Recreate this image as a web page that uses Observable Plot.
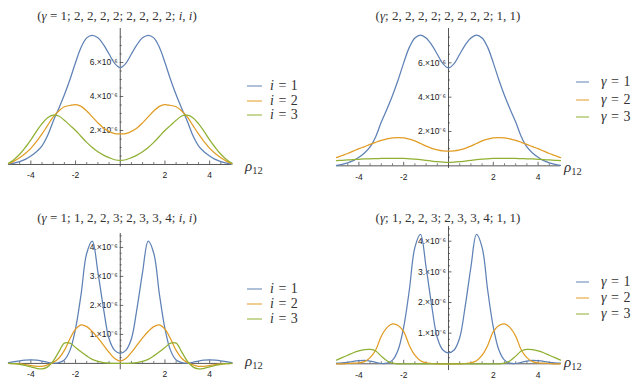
<!DOCTYPE html>
<html><head><meta charset="utf-8">
<script src="https://cdn.jsdelivr.net/npm/d3@7"></script>
<script src="https://cdn.jsdelivr.net/npm/@observablehq/plot@0.6"></script>
<style>
html,body{margin:0;padding:0;background:#fff;}
#root{position:relative;width:635px;height:380px;overflow:hidden;background:#fff;}
#root svg{position:absolute;overflow:visible;}
.t{position:absolute;font-family:"Liberation Serif","Times New Roman",Times,"DejaVu Serif",serif;color:#333;white-space:nowrap;line-height:1;}
.title{font-size:13px;transform:translate(-50%,-50%);}
.rho{font-size:15px;transform:translateY(-50%);}
.rho sub{font-size:10.5px;font-style:normal;vertical-align:-3px;}
.leg{font-size:14px;transform:translateY(-50%);word-spacing:1px;}
.sw{position:absolute;height:0;border-top:1.3px solid;transform:translateY(-50%);}
</style></head>
<body><div id="root"></div>
<script>
// rho_12 sample positions
const xs = [-5,-4.75,-4.5,-4.25,-4,-3.75,-3.5,-3.25,-3,-2.75,-2.5,-2.25,-2,-1.75,-1.5,-1.25,-1,-0.75,-0.5,-0.25,0,0.25,0.5,0.75,1,1.25,1.5,1.75,2,2.25,2.5,2.75,3,3.25,3.5,3.75,4,4.25,4.5,4.75,5];

// values in units of 1e-6
// panel 1: (γ = 1; 2,2,2,2; 2,2,2,2; i,i)
const p1_i1 = [0.03,0.08,0.17,0.3,0.5,0.75,1.1,1.7,2.55,3.3,4.1,5.0,6.0,6.9,7.45,7.6,7.45,7.05,6.5,5.95,5.7,5.95,6.5,7.05,7.45,7.6,7.45,6.9,6.0,5.0,4.1,3.3,2.55,1.7,1.1,0.75,0.5,0.3,0.17,0.08,0.03];
const p1_i2 = [0.05,0.2,0.4,0.65,0.95,1.35,1.8,2.3,2.8,3.15,3.4,3.47,3.52,3.42,3.15,2.8,2.45,2.15,1.95,1.82,1.8,1.82,1.95,2.15,2.45,2.8,3.15,3.42,3.52,3.47,3.4,3.15,2.8,2.3,1.8,1.35,0.95,0.65,0.4,0.2,0.05];
const p1_i3 = [0.07,0.3,0.6,1.0,1.45,1.95,2.4,2.75,2.9,2.85,2.6,2.3,2.0,1.65,1.3,1.0,0.75,0.55,0.4,0.28,0.24,0.28,0.4,0.55,0.75,1.0,1.3,1.65,2.0,2.3,2.6,2.85,2.9,2.75,2.4,1.95,1.45,1.0,0.6,0.3,0.07];

// panel 2: (γ; 2,2,2,2; 2,2,2,2; 1,1)
const p2_g1 = [0.03,0.08,0.17,0.3,0.5,0.75,1.1,1.7,2.55,3.3,4.1,5.0,6.0,6.9,7.45,7.62,7.45,7.05,6.5,5.95,5.7,5.95,6.5,7.05,7.45,7.62,7.45,6.9,6.0,5.0,4.1,3.3,2.55,1.7,1.1,0.75,0.5,0.3,0.17,0.08,0.03];
const p2_g2 = [0.48,0.6,0.72,0.86,1.0,1.12,1.25,1.37,1.48,1.57,1.63,1.65,1.63,1.56,1.45,1.3,1.15,1.02,0.93,0.87,0.85,0.87,0.93,1.02,1.15,1.3,1.45,1.56,1.63,1.65,1.63,1.57,1.48,1.37,1.25,1.12,1.0,0.86,0.72,0.6,0.48];
const p2_g3 = [0.3,0.32,0.34,0.36,0.38,0.4,0.41,0.42,0.43,0.44,0.44,0.44,0.43,0.41,0.39,0.36,0.32,0.28,0.24,0.21,0.2,0.21,0.24,0.28,0.32,0.36,0.39,0.41,0.43,0.44,0.44,0.44,0.43,0.42,0.41,0.4,0.38,0.36,0.34,0.32,0.3];

// panel 3: (γ = 1; 1,2,2,3; 2,3,3,4; i,i)
const p3_i1 = [0.03,0.06,0.09,0.11,0.12,0.11,0.08,0.04,0.01,0.03,0.12,0.45,1.2,2.4,3.8,4.22,3.15,1.9,0.85,0.45,0.35,0.45,0.85,1.9,3.15,4.22,3.8,2.4,1.2,0.45,0.12,0.03,0.01,0.04,0.08,0.11,0.12,0.11,0.09,0.06,0.03];
const p3_i2 = [0.0,-0.01,-0.02,-0.04,-0.07,-0.1,-0.1,-0.05,0.03,0.18,0.45,0.85,1.18,1.33,1.27,1.1,0.88,0.63,0.38,0.17,0.08,0.17,0.38,0.63,0.88,1.1,1.27,1.33,1.18,0.85,0.45,0.18,0.03,-0.05,-0.1,-0.1,-0.07,-0.04,-0.02,-0.01,0.0];
const p3_i3 = [0.0,-0.01,-0.03,-0.07,-0.12,-0.17,-0.19,-0.12,0.08,0.4,0.7,0.7,0.55,0.4,0.26,0.14,0.07,0.03,0.01,0.0,0.0,0.0,0.01,0.03,0.07,0.14,0.26,0.4,0.55,0.7,0.7,0.4,0.08,-0.12,-0.19,-0.17,-0.12,-0.07,-0.03,-0.01,0.0];

// panel 4: (γ; 1,2,2,3; 2,3,3,4; 1,1)
const p4_g1 = [0.02,0.03,0.05,0.08,0.1,0.11,0.09,0.05,0.01,0.02,0.12,0.45,1.2,2.4,3.8,4.22,3.15,1.9,0.85,0.45,0.36,0.45,0.85,1.9,3.15,4.22,3.8,2.4,1.2,0.45,0.12,0.02,0.01,0.05,0.09,0.11,0.1,0.08,0.05,0.03,0.02];
const p4_g2 = [0.0,0.0,0.01,0.02,0.03,0.07,0.2,0.45,0.9,1.18,1.3,1.25,1.05,0.6,0.28,0.1,0.03,0.01,0.0,0.0,0.0,0.0,0.0,0.01,0.03,0.1,0.28,0.6,1.05,1.25,1.3,1.18,0.9,0.45,0.2,0.07,0.03,0.02,0.01,0.0,0.0];
const p4_g3 = [0.12,0.2,0.28,0.36,0.42,0.46,0.47,0.42,0.25,0.1,0.02,0.0,0.0,0.0,0.0,0.0,0.0,0.0,0.0,0.0,0.0,0.0,0.0,0.0,0.0,0.0,0.0,0.0,0.0,0.0,0.02,0.1,0.25,0.42,0.47,0.46,0.42,0.36,0.28,0.2,0.12];

const xMajorTicks = [-4,-2,2,4];
const xMinorTicks = [-4.5,-3.5,-3,-2.5,-1.5,-1,-0.5,0.5,1,1.5,2.5,3,3.5,4.5];
const yMajorTop = [2,4,6];
const yMinorTop = [0.5,1,1.5,2.5,3,3.5,4.5,5,5.5,6.5,7,7.5];
const yMajorBottom = [1,2,3,4];
const yMinorBottom = [0.2,0.4,0.6,0.8,1.2,1.4,1.6,1.8,2.2,2.4,2.6,2.8,3.2,3.4,3.6,3.8,4.2,4.4];

const titles = [
  '(<i>γ</i> = 1; 2, 2, 2, 2; 2, 2, 2, 2; <i>i</i>, <i>i</i>)',
  '(<i>γ</i>; 2, 2, 2, 2; 2, 2, 2, 2; 1, 1)',
  '(<i>γ</i> = 1; 1, 2, 2, 3; 2, 3, 3, 4; <i>i</i>, <i>i</i>)',
  '(<i>γ</i>; 1, 2, 2, 3; 2, 3, 3, 4; 1, 1)'
];
const legendI = ['<i>i</i> = 1','<i>i</i> = 2','<i>i</i> = 3'];
const legendG = ['<i>γ</i> = 1','<i>γ</i> = 2','<i>γ</i> = 3'];
const colors = ["#5e81b5","#e19c24","#8fb032"];
const axisColor = "#444";
const tickFont = "Liberation Sans, Arial, sans-serif";

// layout (pixel geometry of each panel)
const panels = [
  {series:[p1_i1,p1_i2,p1_i3], legend:legendI, title:titles[0], yMajor:yMajorTop, yMinor:yMinorTop,
   xPx:[7.5,231], y0:164, yRef:6, yRefPx:62, yDomain:[-0.15,8.0],
   titlePos:[117,15], rhoPos:[245,168], swX:247, swW:15, txtX:270, rows:[86,100.5,115]},
  {series:[p2_g1,p2_g2,p2_g3], legend:legendG, title:titles[1], yMajor:yMajorTop, yMinor:yMinorTop,
   xPx:[336,560], y0:165, yRef:6, yRefPx:62, yDomain:[-0.15,8.0],
   titlePos:[448,15], rhoPos:[564,169], swX:576, swW:13, txtX:601, rows:[82,99.5,117]},
  {series:[p3_i1,p3_i2,p3_i3], legend:legendI, title:titles[2], yMajor:yMajorBottom, yMinor:yMinorBottom,
   xPx:[7.5,231], y0:362.7, yRef:4, yRefPx:246.7, yDomain:[-0.22,4.48],
   titlePos:[117,217], rhoPos:[245,363], swX:247, swW:15, txtX:270, rows:[289,304,318.5]},
  {series:[p4_g1,p4_g2,p4_g3], legend:legendG, title:titles[3], yMajor:yMajorBottom, yMinor:yMinorBottom,
   xPx:[336,560], y0:363.3, yRef:4, yRefPx:240.7, yDomain:[-0.22,4.48],
   titlePos:[448,217], rhoPos:[564,364], swX:576, swW:13, txtX:601, rows:[282,298,313.5]}
];

const root = document.getElementById("root");
function addHTML(cls, html, x, y) {
  const d = document.createElement("div");
  d.className = "t " + cls;
  d.innerHTML = html;
  d.style.left = x + "px"; d.style.top = y + "px";
  root.appendChild(d);
  return d;
}

for (const p of panels) {
  const k = (p.y0 - p.yRefPx) / p.yRef;
  const topPx = p.y0 - p.yDomain[1] * k;
  const botPx = p.y0 - p.yDomain[0] * k;
  const pad = 8, padB = 20;
  const svgLeft = p.xPx[0] - pad;
  const width = (p.xPx[1] - p.xPx[0]) + 2 * pad;
  const svgTop = topPx - pad;
  const height = (botPx - topPx) + pad + padB;
  const lineMarks = p.series.map((s, j) =>
    Plot.line(xs.map((x, m) => ({x, v: s[m]})), {x: "x", y: "v", stroke: colors[j], strokeWidth: 1.25, curve: "catmull-rom"}));
  const chart = Plot.plot({
    width, height,
    marginLeft: pad, marginRight: pad, marginTop: pad, marginBottom: padB,
    x: {domain: [-5, 5], axis: null},
    y: {domain: p.yDomain, axis: null},
    style: {background: "transparent", overflow: "visible"},
    marks: [
      Plot.ruleY([0], {stroke: axisColor, strokeWidth: 0.9}),
      Plot.ruleX([0], {stroke: axisColor, strokeWidth: 0.9}),
      Plot.ruleX(xMinorTicks, {x: d => d, y1: 0, y2: 0, insetTop: 0, insetBottom: 2, stroke: axisColor, strokeWidth: 0.7}),
      Plot.ruleX(xMajorTicks, {x: d => d, y1: 0, y2: 0, insetTop: 0, insetBottom: 3.5, stroke: axisColor, strokeWidth: 0.8}),
      Plot.ruleY(p.yMinor, {y: d => d, x1: 0, x2: 0, insetLeft: 0, insetRight: -2, stroke: axisColor, strokeWidth: 0.7}),
      Plot.ruleY(p.yMajor, {y: d => d, x1: 0, x2: 0, insetLeft: 0, insetRight: -3.5, stroke: axisColor, strokeWidth: 0.8}),
      Plot.text(xMajorTicks, {x: d => d, y: 0, text: d => (d < 0 ? "-" : "") + Math.abs(d), dy: 11, fontSize: 8.5, fill: "#222", fontFamily: tickFont}),
      Plot.text(p.yMajor, {x: 0, y: d => d, text: d => d + ".×10⁻⁶", textAnchor: "end", dx: -2.5, fontSize: 8.5, fill: "#222", fontFamily: tickFont}),
      ...lineMarks
    ]
  });
  chart.style.left = svgLeft + "px";
  chart.style.top = svgTop + "px";
  root.appendChild(chart);

  addHTML("title", p.title, p.titlePos[0], p.titlePos[1]);
  addHTML("rho", "<i>ρ</i><sub>12</sub>", p.rhoPos[0], p.rhoPos[1]);
  p.rows.forEach((ry, j) => {
    const sw = document.createElement("div");
    sw.className = "sw";
    sw.style.left = p.swX + "px"; sw.style.top = ry + "px";
    sw.style.width = p.swW + "px"; sw.style.borderTopColor = colors[j];
    root.appendChild(sw);
    addHTML("leg", p.legend[j], p.txtX, ry);
  });
}
</script>
</body></html>
